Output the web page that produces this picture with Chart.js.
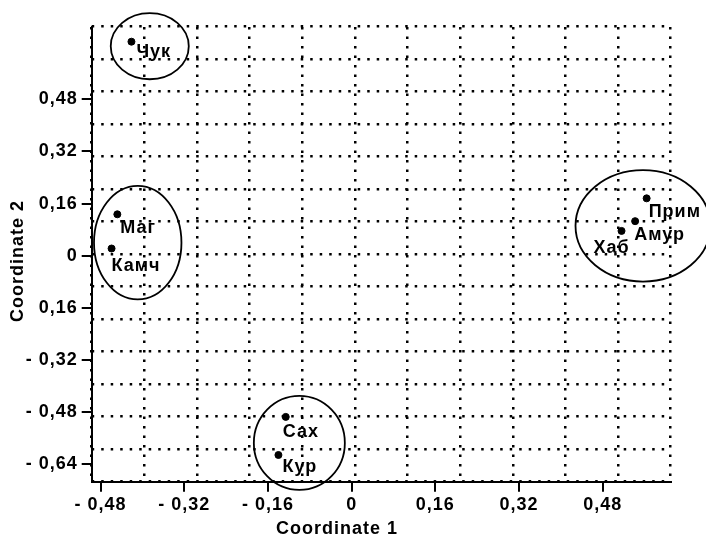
<!doctype html>
<html>
    <head>
        <meta charset="UTF-8" />
        <script src="https://cdn.jsdelivr.net/npm/chart.js"></script>
        <style>
            html, body { margin: 0; padding: 0; background: #fff; }
        </style>
    </head>
    <body>
        <canvas id="mdsChart" width="706" height="540"></canvas>
        <script>
            const regions = ["Чук", "Маг", "Камч", "Прим", "Амур", "Хаб", "Сах", "Кур"];
            const coord1 = [-0.421, -0.448, -0.459, 0.564, 0.542, 0.516, -0.126, -0.14];
            const coord2 = [0.657, 0.127, 0.022, 0.176, 0.106, 0.076, -0.495, -0.612];

            const xTicks = [-0.48, -0.32, -0.16, 0, 0.16, 0.32, 0.48];
            const xTickLabels = ["- 0,48", "- 0,32", "- 0,16", "0", "0,16", "0,32", "0,48"];
            const yTicks = [0.48, 0.32, 0.16, 0, -0.16, -0.32, -0.48, -0.64];
            const yTickLabels = ["0,48", "0,32", "0,16", "0", "0,16", "- 0,32", "- 0,48", "- 0,64"];

            // group ellipses, in data units
            const groupCx = [-0.386, -0.409, 0.557, -0.1];
            const groupCy = [0.643, 0.04, 0.0915, -0.575];
            const groupRx = [0.0746, 0.0836, 0.129, 0.087];
            const groupRy = [0.1014, 0.1744, 0.171, 0.1443];

            // label placement relative to each point (px)
            const labelDx = [5, 3, 0, 2, -1, -10, -3, 4];
            const labelDy = [10, 14, 18, 14, 14, 17, 15, 12];
            const labelAlign = ["left", "left", "left", "left", "left", "center", "left", "left"];

            const font = { family: "'Liberation Sans', Arial, sans-serif", size: 18, weight: "bold" };
            const fontCss = "bold 18px 'Liberation Sans', Arial, sans-serif";

            const spacing = {
                id: "spacing",
                beforeLayout(chart) { chart.ctx.letterSpacing = "1px"; },
                beforeDraw(chart) { chart.ctx.letterSpacing = "1px"; },
            };

            const extras = {
                id: "extras",
                afterDraw(chart) {
                    const ctx = chart.ctx;
                    const x = chart.scales.x;
                    const y = chart.scales.y;
                    ctx.save();
                    ctx.strokeStyle = "#000";
                    ctx.lineWidth = 1.8;
                    for (let i = 0; i < groupCx.length; i++) {
                        const px = x.getPixelForValue(groupCx[i]);
                        const py = y.getPixelForValue(groupCy[i]);
                        const rx = Math.abs(x.getPixelForValue(groupCx[i] + groupRx[i]) - px);
                        const ry = Math.abs(y.getPixelForValue(groupCy[i] + groupRy[i]) - py);
                        ctx.beginPath();
                        ctx.ellipse(px, py, rx, ry, 0, 0, Math.PI * 2);
                        ctx.stroke();
                    }

                    ctx.fillStyle = "#000";
                    ctx.font = fontCss;
                    ctx.letterSpacing = "1px";
                    ctx.textBaseline = "middle";
                    const pts = chart.getDatasetMeta(0).data;
                    pts.forEach((p, i) => {
                        ctx.textAlign = labelAlign[i];
                        ctx.fillText(regions[i], p.x + labelDx[i], p.y + labelDy[i]);
                    });

                    ctx.textAlign = "center";
                    ctx.fillText("Coordinate 1", 337, 529);
                    ctx.translate(18.5, 261);
                    ctx.rotate(-Math.PI / 2);
                    ctx.fillText("Coordinate 2", 0, 0);
                    ctx.restore();
                },
            };

            // dotted paper grid, independent of the tick positions
            const dottedGrid = { display: true, color: "#000", lineWidth: 2.5, drawTicks: false };
            const dottedBorder = { display: false, dash: [2.5, 7] };

            new Chart(document.getElementById("mdsChart"), {
                type: "scatter",
                data: {
                    datasets: [
                        {
                            data: coord1.map((v, i) => ({ x: v, y: coord2[i] })),
                            backgroundColor: "#000",
                            borderColor: "#000",
                            pointRadius: 3.5,
                            pointHoverRadius: 3.5,
                        },
                    ],
                },
                options: {
                    responsive: false,
                    animation: false,
                    events: [],
                    layout: { padding: { left: 0, top: 26.7, right: 35.3, bottom: 0 } },
                    plugins: { legend: { display: false }, tooltip: { enabled: false } },
                    scales: {
                        x: {
                            type: "linear",
                            min: -0.497,
                            max: 0.61,
                            afterBuildTicks: (s) => { s.ticks = xTicks.map((v) => ({ value: v })); },
                            afterFit: (s) => { s.height = 58.3; },
                            ticks: {
                                color: "#000",
                                font: font,
                                padding: 3,
                                maxRotation: 0,
                                autoSkip: false,
                                callback: (v, i) => xTickLabels[i],
                            },
                            grid: { display: true, drawOnChartArea: false, drawTicks: true, tickLength: 10, color: "#000", lineWidth: 2 },
                            border: { display: true, color: "#000", width: 2 },
                        },
                        y: {
                            type: "linear",
                            min: -0.694,
                            max: 0.703,
                            afterBuildTicks: (s) => { s.ticks = yTicks.map((v) => ({ value: v })); },
                            afterFit: (s) => { s.width = 91.7; },
                            ticks: {
                                color: "#000",
                                font: font,
                                padding: 4,
                                autoSkip: false,
                                callback: (v, i) => yTickLabels[i],
                            },
                            grid: { display: true, drawOnChartArea: false, drawTicks: true, tickLength: 10, color: "#000", lineWidth: 2 },
                            border: { display: true, color: "#000", width: 2 },
                        },
                        gx: {
                            type: "linear",
                            position: "top",
                            min: 0,
                            max: 11,
                            ticks: { display: false, stepSize: 1 },
                            grid: dottedGrid,
                            border: dottedBorder,
                        },
                        gy: {
                            type: "linear",
                            position: "right",
                            min: 0,
                            max: 14,
                            ticks: { display: false, stepSize: 1 },
                            grid: dottedGrid,
                            border: dottedBorder,
                        },
                    },
                },
                plugins: [spacing, extras],
            });
        </script>
    </body>
</html>
